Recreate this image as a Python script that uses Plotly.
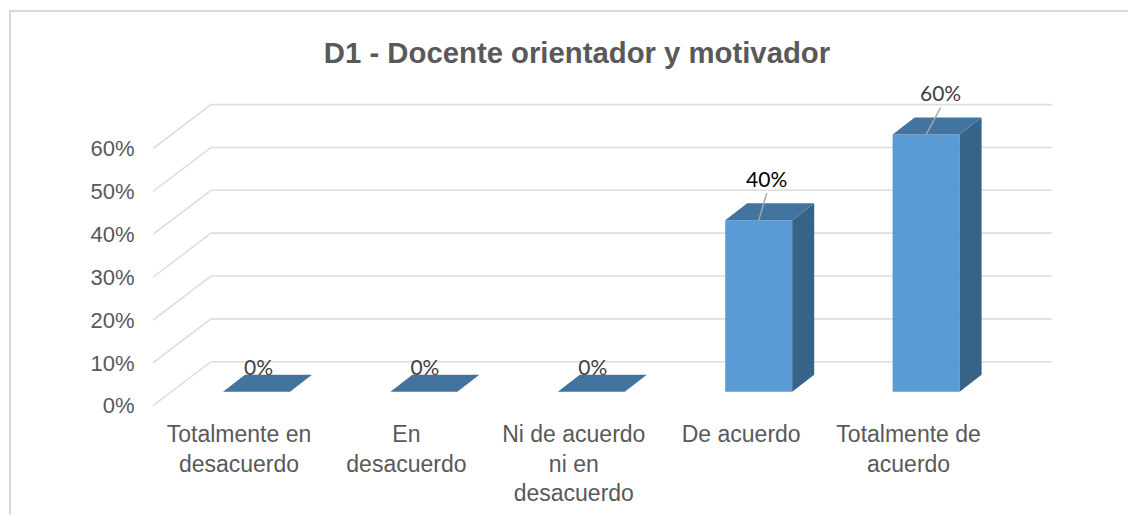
import plotly.graph_objects as go

# ---- data ----
categories = ["Totalmente en<br>desacuerdo", "En<br>desacuerdo", "Ni de acuerdo<br>ni en<br>desacuerdo",
              "De acuerdo", "Totalmente de<br>acuerdo"]
values = [0, 0, 0, 40, 60]
value_ticks = [0, 10, 20, 30, 40, 50, 60]
title_text = "D1 - Docente orientador y motivador"

# ---- geometry of the fake 3D, in axis units ----
W, H = 1128, 515
PL, PR, PT, PB = 153, 1052, 70, 412      # plot area pixels
CAT_PX = 167.4                           # pixels per category
UNIT_PX = 4.285                          # pixels per percent
X0_PX = 239                              # label centre of first category
WALL_ZERO_PX = 405.7                     # front wall zero
BAR_ZERO_PX = 391.7                      # bar front zero
bar_width = 67 / CAT_PX
bar_shift = 17.5 / CAT_PX
depth_x, depth_y = 22 / CAT_PX, 17 / UNIT_PX
wall_x, wall_y = 58 / CAT_PX, 44 / UNIT_PX
xr = [(PL - X0_PX) / CAT_PX, (PR - X0_PX) / CAT_PX]
yr_wall = [(WALL_ZERO_PX - PB) / UNIT_PX, (WALL_ZERO_PX - PT) / UNIT_PX]
yr_bar = [(BAR_ZERO_PX - PB) / UNIT_PX, (BAR_ZERO_PX - PT) / UNIT_PX]

FRONT, TOP, SIDE = "#5B9BD5", "#43749F", "#376389"
GRID = "#DEDEDE"
TEXT = "#595959"
pos = list(range(len(categories)))

fig = go.Figure()

# walls and gridlines, on the base axis so they stay behind the bars
gx, gy = [], []
for v in value_ticks:
    gx += [xr[0], xr[0] + wall_x, xr[1], None]
    gy += [v, v + wall_y, v + wall_y, None]
fig.add_trace(go.Scatter(x=gx, y=gy, mode="lines", line=dict(color=GRID, width=1.6),
                         hoverinfo="skip", showlegend=False, yaxis="y", cliponaxis=False))

# front faces
fig.add_trace(go.Bar(x=[p + bar_shift for p in pos], y=values, width=bar_width, yaxis="y2",
                     marker=dict(color=FRONT, line=dict(width=0)), showlegend=False, hoverinfo="skip"))

# top and side faces
tx, ty, sx, sy = [], [], [], []
for p, v in zip(pos, values):
    l = p + bar_shift - bar_width / 2
    r = p + bar_shift + bar_width / 2
    tx += [l, r, r + depth_x, l + depth_x, l, None]
    ty += [v, v, v + depth_y, v + depth_y, v, None]
    if v > 0:
        sx += [r, r + depth_x, r + depth_x, r, r, None]
        sy += [0, depth_y, v + depth_y, v, 0, None]
fig.add_trace(go.Scatter(x=sx, y=sy, mode="lines", fill="toself", fillcolor=SIDE, line=dict(width=0),
                         hoverinfo="skip", showlegend=False, yaxis="y2"))
fig.add_trace(go.Scatter(x=tx, y=ty, mode="lines", fill="toself", fillcolor=TOP, line=dict(width=0),
                         hoverinfo="skip", showlegend=False, yaxis="y2"))

# leader lines and data labels
lab_dx = {0: 2 / CAT_PX, 1: 1 / CAT_PX, 2: 1.5 / CAT_PX, 3: 8 / CAT_PX, 4: 14.5 / CAT_PX}
lx, ly = [], []
for p, v in zip(pos, values):
    if v > 0:
        c = p + bar_shift
        lx += [c, c + lab_dx[p], None]
        ly += [v, v + 27 / UNIT_PX, None]
fig.add_trace(go.Scatter(x=lx, y=ly, mode="lines", line=dict(color="#A6A6A6", width=1.4),
                         hoverinfo="skip", showlegend=False, yaxis="y2"))
lab_colors = ["#404040", "#404040", "#404040", "#000000", "#404040"]
fig.add_trace(go.Scatter(
    x=[p + bar_shift + lab_dx[p] for p in pos],
    y=[v + (38.5 if v > 0 else 22) / UNIT_PX for v in values],
    mode="text", text=[f"{v}%" for v in values], textposition="middle center",
    textfont=dict(family="Lato, Carlito, sans-serif", size=21, color=lab_colors),
    hoverinfo="skip", showlegend=False, yaxis="y2", cliponaxis=False))

fig.update_layout(
    width=W, height=H, autosize=False,
    margin=dict(l=PL, r=W - PR, t=PT, b=H - PB, autoexpand=False),
    paper_bgcolor="white", plot_bgcolor="rgba(0,0,0,0)",
    font=dict(family="Liberation Sans, Arial, sans-serif", color=TEXT, size=22),
    title=dict(text=f"<b>{title_text}</b>", x=577 / W, xref="container", xanchor="center",
               y=1 - 53 / H, yref="container", yanchor="middle",
               font=dict(size=29.3, color=TEXT, family="Liberation Sans, Arial, sans-serif")),
    xaxis=dict(range=xr, tickvals=pos, ticktext=categories, showgrid=False, zeroline=False,
               showline=False, ticks="outside", ticklen=1, tickcolor="rgba(0,0,0,0)",
               tickangle=0, fixedrange=True, tickfont=dict(size=23), automargin=False),
    yaxis=dict(range=yr_wall, tickvals=value_ticks, ticktext=[f"{v}%" for v in value_ticks],
               showgrid=False, zeroline=False, showline=False, ticks="outside", ticklen=13,
               tickcolor="rgba(0,0,0,0)", fixedrange=True, automargin=False),
    yaxis2=dict(range=yr_bar, overlaying="y", visible=False, fixedrange=True, automargin=False),
    shapes=[dict(type="rect", xref="paper", yref="paper",
                 x0=(10 - PL) / (PR - PL), x1=(1160 - PL) / (PR - PL),
                 y0=(PB - 560) / (PB - PT), y1=(PB - 11) / (PB - PT),
                 line=dict(color="#D9D9D9", width=2), layer="below")],
)
fig.write_html("out.html", config=dict(displayModeBar=False),
               post_script="document.body.style.margin='0';")
